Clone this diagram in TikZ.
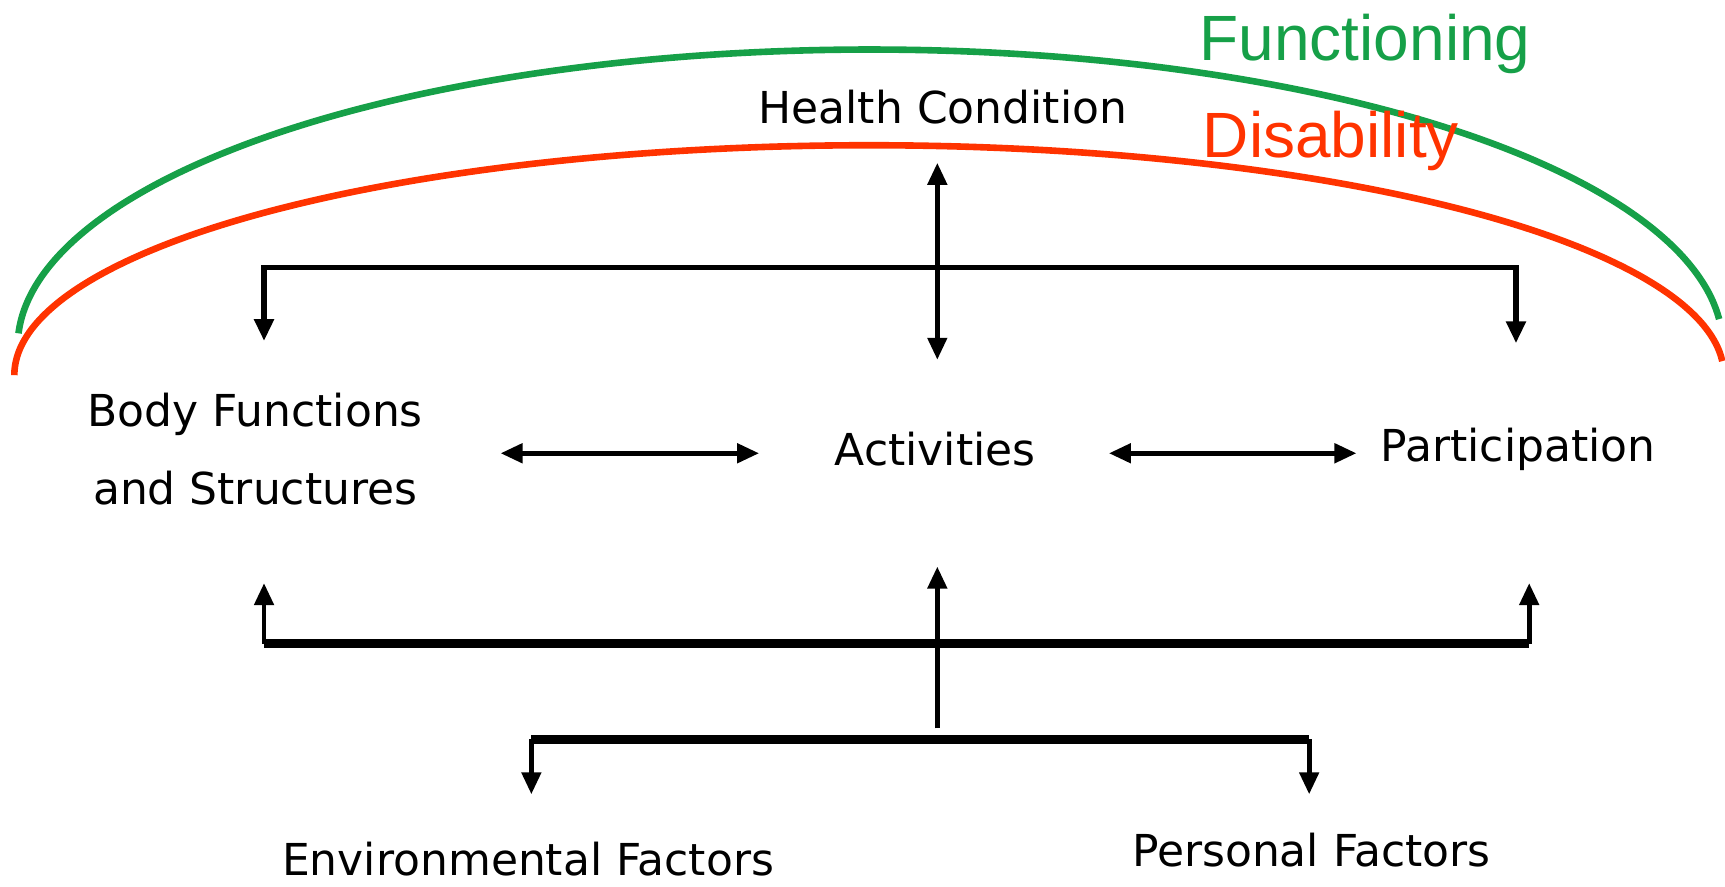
\documentclass[tikz,border=0pt]{standalone}
\usepackage{fontspec}
\setmainfont{DejaVu Sans}
\newfontfamily\arialf{Liberation Sans}
\usetikzlibrary{arrows.meta}
\definecolor{fgreen}{RGB}{22,160,72}
\definecolor{dred}{RGB}{255,51,0}
\begin{document}
\begin{tikzpicture}[x=0.55pt,y=-0.55pt,
  lbl/.style={inner sep=0pt, align=center, font=\fontsize{22}{39}\selectfont},
  big/.style={inner sep=0pt, anchor=base west, font=\arialf\fontsize{32}{32}\selectfont},
  link/.style={line width=2.4pt},
  bus/.style={line width=2.7pt},
  thickbus/.style={line width=4.3pt},
  tip/.style={-{Triangle[width=9.5pt,length=11pt]}},
  tips/.style={{Triangle[width=9.5pt,length=11pt]}-{Triangle[width=9.5pt,length=11pt]}},
  arcline/.style={line width=3.3pt}]
\useasboundingbox (0,0) rectangle (1568,806);

% arcs
\draw[arcline, fgreen] plot[domain=177.45:5.3, samples=150, smooth]
  ({791+775*cos(\x)},{315-270*sin(\x)});
\draw[arcline, dred] plot[domain=180:3.5, samples=150, smooth]
  ({790+777*cos(\x)},{341-209*sin(\x)});

\node[big, text=fgreen] (fun) at (1090,55) {Functioning};
\node[big, text=dred] (dis) at (1093,143) {Disability};

% labels
\node[lbl] (hc) at (857,97) {Health Condition};
\node[lbl] (bf) at (232,408) {Body Functions\\and Structures};
\node[lbl] (act) at (850,408) {Activities};
\node[lbl] (par) at (1380,408) {Participation};
\node[lbl] (env) at (480,781) {Environmental Factors};
\node[lbl] (pf) at (1192,773) {Personal Factors};

% coordinates
\coordinate (hcdown) at (852,148);
\coordinate (actup) at (852,327);
\coordinate (tl) at (240,243);
\coordinate (tr) at (1378,243);
\coordinate (bftop) at (240,310);
\coordinate (partop) at (1378,312);
\coordinate (ba1) at (455,412);
\coordinate (ba2) at (690,412);
\coordinate (ap1) at (1008,412);
\coordinate (ap2) at (1233,412);
\coordinate (ll) at (240,585);
\coordinate (lr) at (1390,585);
\coordinate (bfbot) at (240,530);
\coordinate (parbot) at (1390,530);
\coordinate (cbot) at (852,662);
\coordinate (actbot) at (852,515);
\coordinate (el) at (483,672);
\coordinate (er) at (1190,672);
\coordinate (envtop) at (483,722);
\coordinate (pftop) at (1190,722);

% top bus
\draw[bus, tips] (bftop) -- (tl) -- (tr) -- (partop);
\draw[link, tips] (hcdown) -- (actup);

% middle arrows
\draw[link, tips] (ba1) -- (ba2);
\draw[link, tips] (ap1) -- (ap2);

% lower bus
\draw[thickbus] (ll) -- (lr);
\draw[link, tip] (ll) -- (bfbot);
\draw[link, tip] (lr) -- (parbot);
\draw[link, tip] (cbot) -- (actbot);

% bottom bus
\draw[thickbus] (el) -- (er);
\draw[link, tip] (el) -- (envtop);
\draw[link, tip] (er) -- (pftop);
\end{tikzpicture}
\end{document}
